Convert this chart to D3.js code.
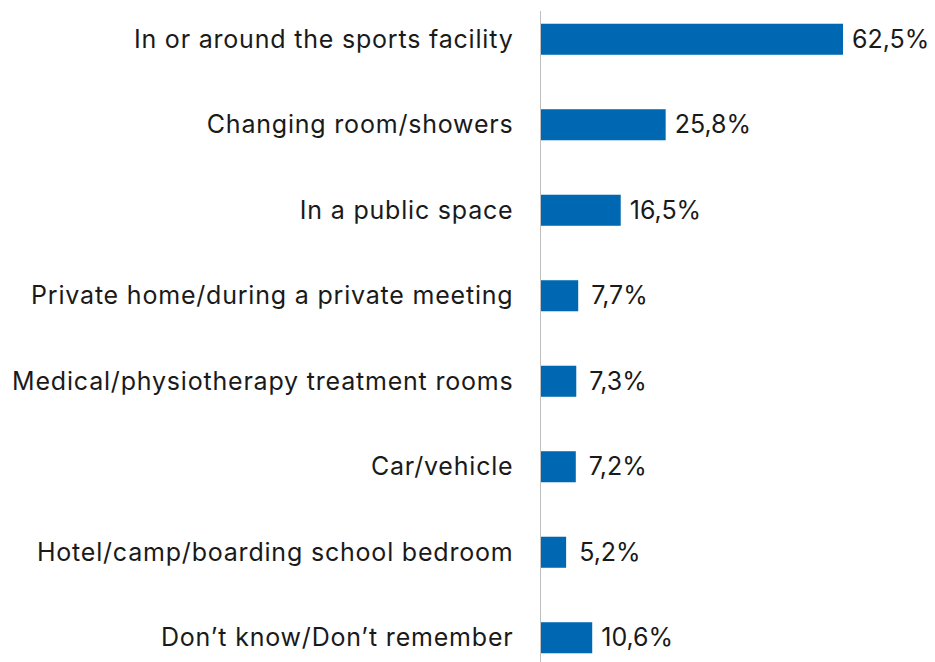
<!DOCTYPE html>
<html>
<head>
<meta charset="utf-8">
<script src="https://cdn.jsdelivr.net/npm/d3@7"></script>
<style>
  html, body { margin: 0; padding: 0; background: #fff; }
  svg { display: block; }
  text { font-family: Inter, "Noto Sans", sans-serif; fill: #1a1a1a; }
</style>
</head>
<body>
<svg id="chart" width="935" height="662"></svg>
<script>
// Where the incident took place (share of respondents, %)
const categories = [
  "In or around the sports facility",
  "Changing room/showers",
  "In a public space",
  "Private home/during a private meeting",
  "Medical/physiotherapy treatment rooms",
  "Car/vehicle",
  "Hotel/camp/boarding school bedroom",
  "Don\u2019t know/Don\u2019t remember"
];
const values = [62.5, 25.8, 16.5, 7.7, 7.3, 7.2, 5.2, 10.6];
const valueLabels = ["62,5%", "25,8%", "16,5%", "7,7%", "7,3%", "7,2%", "5,2%", "10,6%"];

const svg = d3.select("#chart");
const width = 935, height = 662;
const axisX = 540.5;

const x = d3.scaleLinear().domain([0, 62.5]).range([axisX + 0.5, 843]);
const y = d3.scaleBand()
  .domain(categories)
  .range([-3.5, 680.5])
  .paddingInner(0.637)
  .paddingOuter(0.3185);

const rows = svg.append("g");

rows.selectAll("rect.bar")
  .data(categories)
  .join("rect")
  .attr("class", "bar")
  .attr("x", x(0))
  .attr("y", d => y(d))
  .attr("width", (d, i) => x(values[i]) - x(0))
  .attr("height", y.bandwidth())
  .attr("fill", "#0068b3");

rows.selectAll("text.val")
  .data(categories)
  .join("text")
  .attr("class", "val")
  .attr("x", (d, i) => x(values[i]) + (valueLabels[i].length > 4 ? 9 : 13))
  .attr("y", d => y(d) + y.bandwidth() / 2)
  .attr("dy", "0.33em")
  .attr("font-size", 25)
  .text((d, i) => valueLabels[i]);

rows.selectAll("text.cat")
  .data(categories)
  .join("text")
  .attr("class", "cat")
  .attr("x", axisX - 27)
  .attr("y", d => y(d) + y.bandwidth() / 2)
  .attr("dy", "0.33em")
  .attr("text-anchor", "end")
  .attr("font-size", 25)
  .attr("letter-spacing", "0.8px")
  .text(d => d);

// vertical baseline
svg.append("line")
  .attr("x1", axisX).attr("x2", axisX)
  .attr("y1", 11).attr("y2", height)
  .attr("stroke", "#bfbfbf")
  .attr("stroke-width", 1);
</script>
</body>
</html>
